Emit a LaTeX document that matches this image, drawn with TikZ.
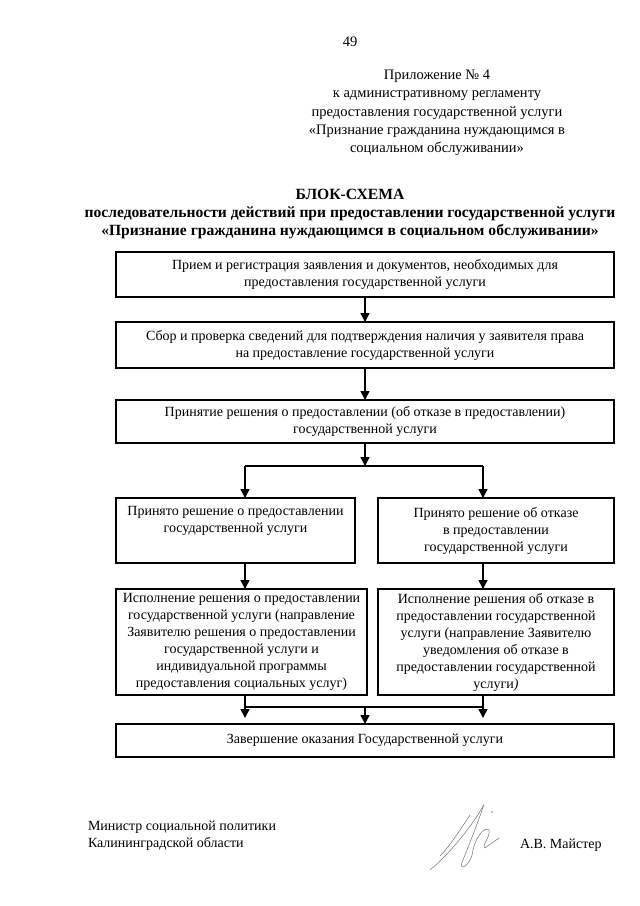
\documentclass[tikz,border=0pt]{standalone}
\usepackage{fontspec}
\setmainfont{Liberation Serif}
\usetikzlibrary{arrows.meta}
\begin{document}
\begin{tikzpicture}[x=1pt,y=-1pt,
  every node/.style={inner sep=0pt,outer sep=0pt,font=\fontsize{14}{17}\selectfont},
  box/.style={draw,line width=1.1pt,align=center,anchor=center},
  txt/.style={align=center},
  conn/.style={line width=1.6pt},
  arr/.style={line width=1.6pt,-{Triangle[width=9pt,length=9pt]}},
  sig/.style={line width=0.5pt,black!55}]
\useasboundingbox[fill=white] (0,0) rectangle (640,906);

\node[txt,font=\fontsize{14.5}{18}\selectfont] (pg) at (350,42) {49};
\node[txt,font=\fontsize{14.5}{18.3}\selectfont] (app) at (437,113) {Приложение № 4\\к административному регламенту\\предоставления государственной услуги\\«Признание гражданина нуждающимся в\\социальном обслуживании»};
\node[txt,font=\fontsize{15.6}{18}\selectfont\bfseries] (title) at (350,214) {БЛОК-СХЕМА\\последовательности действий при предоставлении государственной услуги\\«Признание гражданина нуждающимся в социальном обслуживании»};

\node[box,minimum width=498pt,minimum height=45pt] (b1) at (365,274.5) {Прием и регистрация заявления и документов, необходимых для\\предоставления государственной услуги};
\node[box,minimum width=498pt,minimum height=46pt] (b2) at (365,345) {Сбор и проверка сведений для подтверждения наличия у заявителя права\\на предоставление государственной услуги};
\node[box,minimum width=498pt,minimum height=43pt] (b3) at (365,421.5) {Принятие решения о предоставлении (об отказе в предоставлении)\\государственной услуги};
\node[box,minimum width=239pt,minimum height=65pt] (b4) at (235.5,530.5) {Принято решение о предоставлении\\государственной услуги\\\strut};
\node[box,minimum width=236pt,minimum height=65pt] (b5) at (496,530.5) {Принято решение об отказе\\в предоставлении\\государственной услуги};
\node[box,minimum width=251pt,minimum height=106pt] (b6) at (241.5,642) {Исполнение решения о предоставлении\\государственной услуги (направление\\Заявителю решения о предоставлении\\государственной услуги и\\индивидуальной программы\\предоставления социальных услуг)};
\node[box,minimum width=236pt,minimum height=106pt] (b7) at (496,642) {Исполнение решения об отказе в\\предоставлении государственной\\услуги (направление Заявителю\\уведомления об отказе в\\предоставлении государственной\\услуги{\itshape )}};
\node[box,minimum width=498pt,minimum height=33pt] (b8) at (365,740.5) {Завершение оказания Государственной услуги};

\draw[arr] (b1.south -| 365,0) -- (b2.north -| 365,0);
\draw[arr] (b2.south -| 365,0) -- (b3.north -| 365,0);
\coordinate (s) at (365,466);
\coordinate (sl) at (245,466);
\coordinate (sr) at (483,466);
\draw[arr] (b3.south -| 365,0) -- (s);
\draw[conn] (sl) -- (sr);
\draw[arr] (sl) -- (b4.north -| sl);
\draw[arr] (sr) -- (b5.north -| sr);
\draw[arr] (b4.south -| sl) -- (b6.north -| sl);
\draw[arr] (b5.south -| sr) -- (b7.north -| sr);
\coordinate (jl) at (245,707);
\coordinate (jr) at (483,707);
\coordinate (jm) at (365,707);
\coordinate (el) at (245,718);
\coordinate (er) at (483,718);
\draw[arr] (b6.south -| jl) -- (el);
\draw[arr] (b7.south -| jr) -- (er);
\draw[conn] (jl) -- (jr);
\draw[arr] (jm) -- (b8.north -| jm);

\node[txt,align=left,anchor=west] (min) at (88,836) {Министр социальной политики\\Калининградской области};
\node[txt,anchor=west] (name) at (520,845) {А.В. Майстер};

\draw[sig] (430,870) .. controls (452,852) and (476,820) .. (483,806);
\draw[sig] (483,806) .. controls (487,798) and (472,838) .. (463,860);
\draw[sig] (463,860) .. controls (457,873) and (471,867) .. (473,850);
\draw[sig] (473,850) .. controls (476,836) and (485,826) .. (489,830);
\draw[sig] (489,830) .. controls (491,836) and (481,846) .. (485,848);
\draw[sig] (485,848) -- (499,838);
\draw[sig] (440,856) .. controls (450,846) and (460,830) .. (470,815);
\fill[black!50] (492,812) circle (0.8pt);
\end{tikzpicture}
\end{document}
